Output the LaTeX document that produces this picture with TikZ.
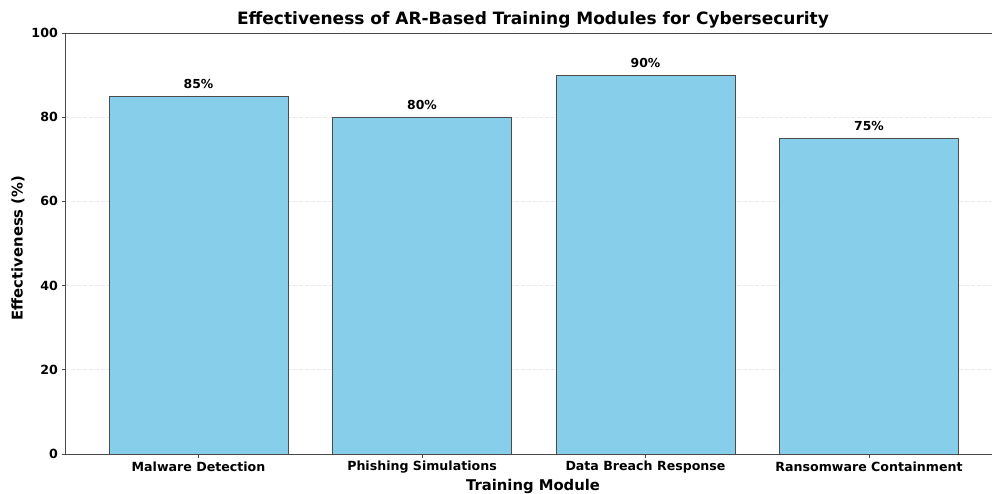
\documentclass[tikz,border=0pt]{standalone}
\usepackage{fontspec}
\setmainfont{DejaVu Sans}
\definecolor{skyblue}{HTML}{87CEEB}
\definecolor{spinecol}{HTML}{4A4A4A}
\definecolor{gridcol}{HTML}{EAEAEA}
\begin{document}
\begin{tikzpicture}[x=1pt,y=1pt,
  bar/.style={fill=skyblue,draw=black!70,line width=1pt},
  spine/.style={draw=spinecol,line width=0.9pt},
  gridline/.style={draw=gridcol,line width=0.8pt,dash pattern=on 4pt off 2pt},
  ticklab/.style={font=\bfseries\fontsize{12.6}{14}\selectfont,inner sep=0pt},
  vallab/.style={font=\bfseries\fontsize{12.4}{14}\selectfont,inner sep=0pt},
  axlab/.style={font=\bfseries\fontsize{14.8}{17}\selectfont,inner sep=0pt},
  titlelab/.style={font=\bfseries\fontsize{17}{19}\selectfont,inner sep=0pt}]
\useasboundingbox (0,0) rectangle (992,493);
\fill[white] (0,0) rectangle (992,493);
% y = 39 + 4.21*value ; axes from x=65 to 1003 (clipped at the page edge)
\def\yz{39}
\def\ys{4.21}
% grid lines
\foreach \v in {20,40,60,80} {
  \draw[gridline] (65,{\yz+\ys*\v}) -- (992,{\yz+\ys*\v});
}
% bars with value labels and category ticks
\foreach \c/\v/\lab/\n in {198.5/85/Malware Detection/a, 422/80/Phishing Simulations/b, 645.5/90/Data Breach Response/c, 869/75/Ransomware Containment/d} {
  \path[bar] ({\c-89.5},\yz) rectangle ({\c+89.5},{\yz+\ys*\v});
  \node[vallab] (val\n) at (\c,{\yz+\ys*\v+12.5}) {\v\%};
  \draw[spine] (\c,\yz) -- (\c,{\yz-3.5});
  \node[ticklab] (tick\n) at (\c,26) {\lab};
}
% spines
\draw[spine] (992,460) -- (65,460) -- (65,\yz) -- (992,\yz);
% y ticks
\foreach \v in {0,20,40,60,80,100} {
  \draw[spine] (65,{\yz+\ys*\v}) -- (61.5,{\yz+\ys*\v});
  \node[ticklab,anchor=east] (ytick\v) at (58,{\yz+\ys*\v}) {\v};
}
% labels
\node[titlelab] (title) at (533,473) {Effectiveness of AR-Based Training Modules for Cybersecurity};
\node[axlab] (xlabel) at (533,7) {Training Module};
\node[axlab,rotate=90] (ylabel) at (18,245) {Effectiveness (\%)};
\end{tikzpicture}
\end{document}
